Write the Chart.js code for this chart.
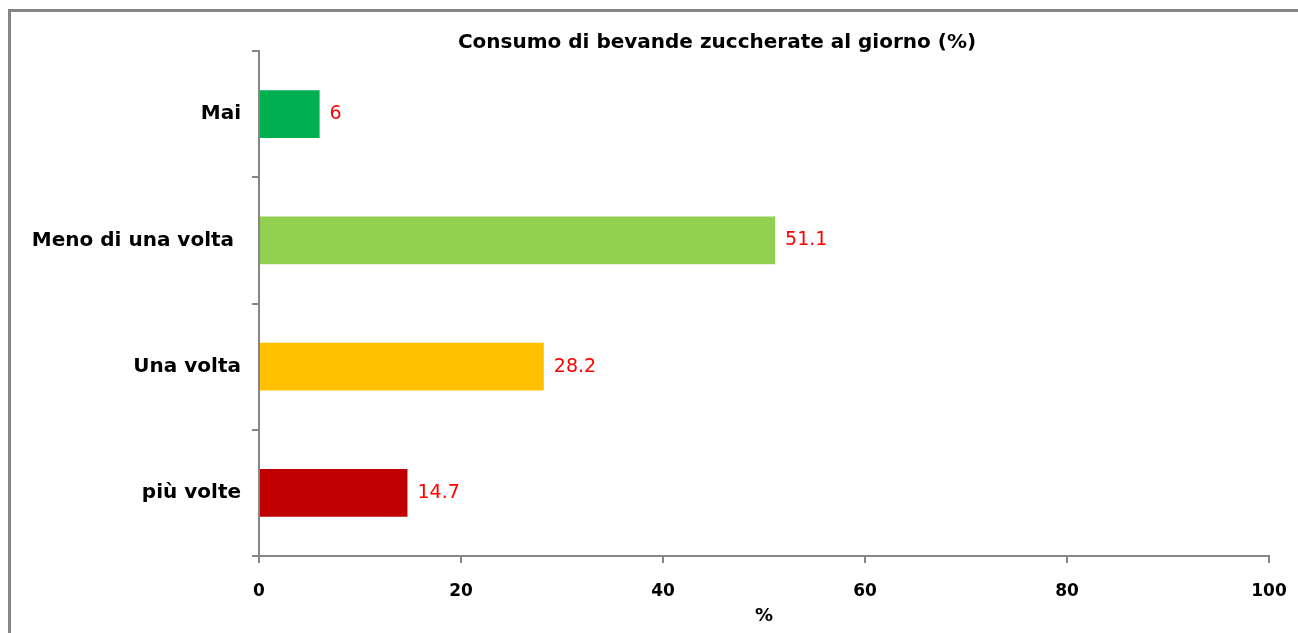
<!DOCTYPE html>
<html>
<head>
<meta charset="utf-8">
<script src="https://cdn.jsdelivr.net/npm/chart.js@4.4.1/dist/chart.umd.min.js"></script>
<style>
  html, body { margin: 0; padding: 0; background: #fff; }
  #wrap { width: 1298px; height: 633px; }
</style>
</head>
<body>
<div id="wrap"><canvas id="chart"></canvas></div>
<script>
// dati
const categorie = ['Mai', 'Meno di una volta ', 'Una volta', 'più volte'];
const valori = [6, 51.1, 28.2, 14.7];
const colori = ['#00B050', '#92D050', '#FFC000', '#C00000'];
const tickX = [0, 20, 40, 60, 80, 100];

const grigio = '#868686';

// cornice esterna (esce dal bordo a destra e in basso)
const cornice = {
  id: 'cornice',
  afterLayout(chart) {
    // titolo spostato come nell'originale
    if (chart.titleBlock) chart.titleBlock.left = 136;
  },
  beforeDraw(chart) {
    const c = chart.ctx;
    c.save();
    c.fillStyle = '#fff';
    c.fillRect(0, 0, chart.width, chart.height);
    c.strokeStyle = grigio;
    c.lineWidth = 3;
    c.strokeRect(9.5, 10.5, 2000, 2000);
    c.restore();
  }
};

// etichette dei valori in rosso
const etichette = {
  id: 'etichette',
  afterDatasetsDraw(chart) {
    const c = chart.ctx;
    const meta = chart.getDatasetMeta(0);
    c.save();
    c.font = '19px "DejaVu Sans"';
    c.fillStyle = '#FF0000';
    c.textAlign = 'left';
    c.textBaseline = 'middle';
    meta.data.forEach((bar, i) => {
      c.fillText(String(valori[i]), bar.x + 10, bar.y);
    });
    c.restore();
  }
};

new Chart(document.getElementById('chart'), {
  type: 'bar',
  data: {
    labels: categorie,
    datasets: [{
      data: valori,
      backgroundColor: colori,
      borderWidth: 0,
      barPercentage: 0.38,
      categoryPercentage: 1
    }]
  },
  options: {
    indexAxis: 'y',
    responsive: true,
    maintainAspectRatio: false,
    animation: false,
    layout: { padding: 0 },
    plugins: {
      legend: { display: false },
      tooltip: { enabled: false },
      title: {
        display: true,
        text: 'Consumo di bevande zuccherate al giorno (%)',
        color: '#000',
        font: { family: 'DejaVu Sans', size: 20, weight: 'bold', lineHeight: '20px' },
        padding: { top: 33, bottom: -2 }
      }
    },
    scales: {
      x: {
        min: 0,
        max: 100,
        afterBuildTicks: (scale) => { scale.ticks = tickX.map(v => ({ value: v })); },
        afterFit: (scale) => { scale.height = 77; scale.paddingRight = 29; },
        grid: { drawOnChartArea: false, drawTicks: true, tickLength: 7, color: grigio, lineWidth: 2 },
        border: { display: true, color: grigio, width: 2 },
        ticks: {
          color: '#000',
          padding: 18,
          font: { family: 'DejaVu Sans', size: 17, weight: 'bold' }
        },
        title: {
          display: true,
          text: '%',
          color: '#000',
          font: { family: 'DejaVu Sans', size: 18, weight: 'bold' },
          padding: { top: 0, bottom: 6 }
        }
      },
      y: {
        afterFit: (scale) => { scale.width = 259; },
        grid: { drawOnChartArea: false, drawTicks: true, tickLength: 7, color: grigio, lineWidth: 2, offset: true },
        border: { display: true, color: grigio, width: 2 },
        ticks: {
          color: '#000',
          padding: 11,
          font: { family: 'DejaVu Sans', size: 20, weight: 'bold' }
        }
      }
    }
  },
  plugins: [cornice, etichette]
});
</script>
</body>
</html>
